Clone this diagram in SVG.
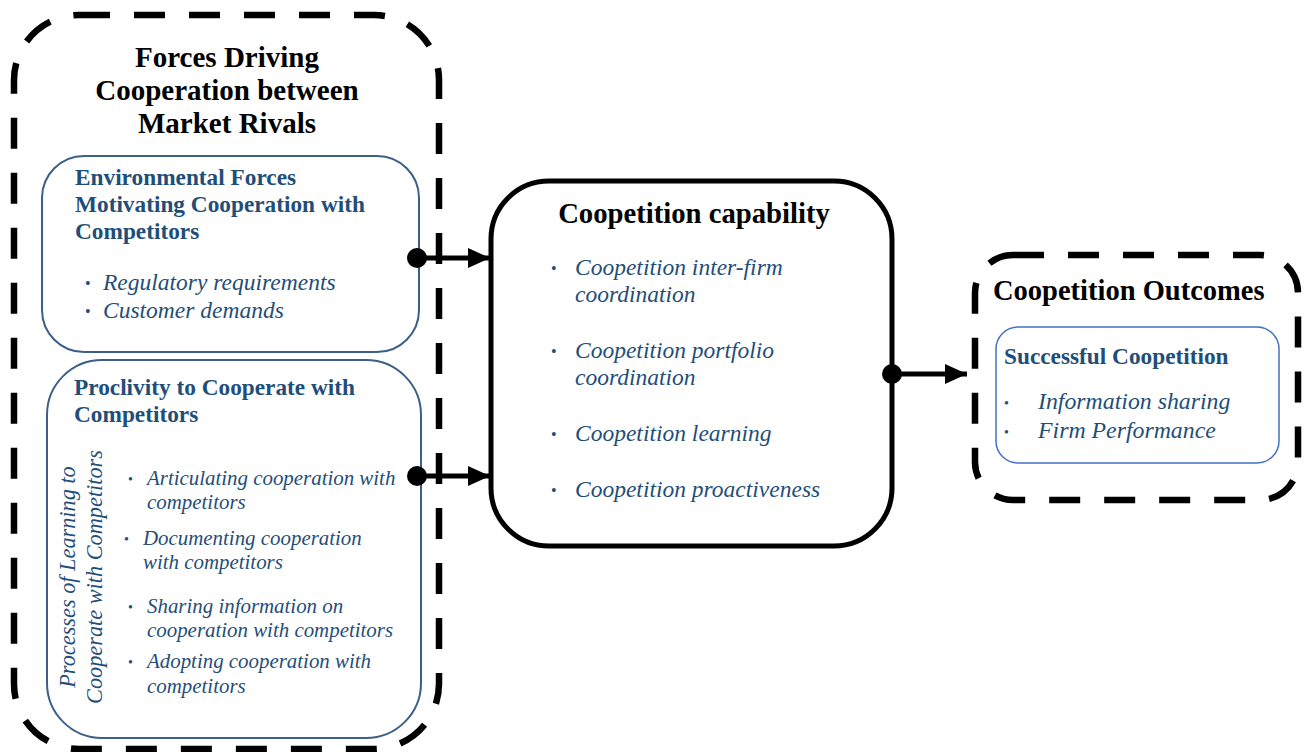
<svg xmlns="http://www.w3.org/2000/svg" width="1305" height="752" viewBox="0 0 1305 752">
<style>
.dash{fill:none;stroke:#000;stroke-width:6.5;stroke-dasharray:31 24}
.blue{fill:#fff;stroke:#3c5f88;stroke-width:2}
.hd{font-family:"Liberation Serif",serif;font-weight:bold;fill:#000}
.bh{font-family:"Liberation Serif",serif;font-weight:bold;fill:#1f4e79}
.it{font-family:"Liberation Serif",serif;font-style:italic;fill:#1f4e79}
.bul{font-family:"Liberation Serif",serif;fill:#1f4e79}
.conn{stroke:#000;stroke-width:5;fill:none}
</style>
<defs>
<marker id="ah" markerWidth="22" markerHeight="20" refX="22" refY="10" orient="auto" markerUnits="userSpaceOnUse">
<path d="M0,0 L22,10 L0,20 Z" fill="#000"/>
</marker>
</defs>
<rect width="1305" height="752" fill="#fff"/>

<g id="forces">
<rect class="dash" x="14" y="15" width="425" height="734" rx="65"/>
<text class="hd" font-size="29" text-anchor="middle" x="227" y="67">Forces Driving</text>
<text class="hd" font-size="29" text-anchor="middle" x="227" y="100">Cooperation between</text>
<text class="hd" font-size="29" text-anchor="middle" x="227" y="133">Market Rivals</text>
</g>

<g id="environmental">
<rect class="blue" x="42" y="156" width="377" height="196" rx="42"/>
<text class="bh" font-size="23.3" x="75" y="185">Environmental Forces</text>
<text class="bh" font-size="23.3" x="75" y="212">Motivating Cooperation with</text>
<text class="bh" font-size="23.3" x="75" y="239">Competitors</text>
<text class="bul" font-size="16" x="85" y="289">•</text>
<text class="it" font-size="23.5" x="103" y="290">Regulatory requirements</text>
<text class="bul" font-size="16" x="85" y="317">•</text>
<text class="it" font-size="23.5" x="103" y="318">Customer demands</text>
</g>

<g id="proclivity">
<rect class="blue" x="47" y="360" width="374" height="378" rx="55"/>
<text class="bh" font-size="23.3" x="74" y="395">Proclivity to Cooperate with</text>
<text class="bh" font-size="23.3" x="74" y="422">Competitors</text>
<text class="it" font-size="22.3" text-anchor="middle" transform="translate(75,577) rotate(-90)">Processes of Learning to</text>
<text class="it" font-size="22.3" text-anchor="middle" transform="translate(102,577) rotate(-90)">Cooperate with Competitors</text>
<text class="bul" font-size="14" x="128" y="484">•</text>
<text class="it" font-size="20.9" x="147" y="485">Articulating cooperation with</text>
<text class="it" font-size="20.9" x="147" y="509">competitors</text>
<text class="bul" font-size="14" x="124" y="544">•</text>
<text class="it" font-size="20.9" x="143" y="545">Documenting cooperation</text>
<text class="it" font-size="20.9" x="143" y="569">with competitors</text>
<text class="bul" font-size="14" x="128" y="612">•</text>
<text class="it" font-size="20.9" x="147" y="613">Sharing information on</text>
<text class="it" font-size="20.9" x="147" y="637">cooperation with competitors</text>
<text class="bul" font-size="14" x="128" y="667">•</text>
<text class="it" font-size="20.9" x="147" y="668">Adopting cooperation with</text>
<text class="it" font-size="20.9" x="147" y="693">competitors</text>
</g>

<g id="capability">
<rect x="491" y="181" width="401" height="365" rx="58" fill="#fff" stroke="#000" stroke-width="5"/>
<text class="hd" font-size="28.7" text-anchor="middle" x="694" y="223">Coopetition capability</text>
<text class="bul" font-size="16" x="551" y="274">•</text>
<text class="it" font-size="23.5" x="575" y="275">Coopetition inter-firm</text>
<text class="it" font-size="23.5" x="575" y="302">coordination</text>
<text class="bul" font-size="16" x="551" y="357">•</text>
<text class="it" font-size="23.5" x="575" y="358">Coopetition portfolio</text>
<text class="it" font-size="23.5" x="575" y="385">coordination</text>
<text class="bul" font-size="16" x="551" y="440">•</text>
<text class="it" font-size="23.5" x="575" y="441">Coopetition learning</text>
<text class="bul" font-size="16" x="551" y="496">•</text>
<text class="it" font-size="23.5" x="575" y="497">Coopetition proactiveness</text>
</g>

<g id="outcomes">
<rect class="dash" x="975" y="255" width="323" height="245" rx="38"/>
<text class="hd" font-size="28.5" x="993" y="300">Coopetition Outcomes</text>
<rect x="996" y="327" width="283" height="136" rx="22" fill="#fff" stroke="#4472c4" stroke-width="1.5"/>
<text class="bh" font-size="23.3" x="1004" y="364">Successful Coopetition</text>
<text class="bul" font-size="14" x="1004" y="408">•</text>
<text class="it" font-size="23.8" x="1038" y="409">Information sharing</text>
<text class="bul" font-size="14" x="1004" y="437">•</text>
<text class="it" font-size="23.8" x="1038" y="438">Firm Performance</text>
</g>

<g id="connectors">
<line class="conn" x1="417" y1="258" x2="490" y2="258" marker-end="url(#ah)"/>
<circle cx="417" cy="258" r="10"/>
<line class="conn" x1="417" y1="476" x2="490" y2="476" marker-end="url(#ah)"/>
<circle cx="417" cy="476" r="10"/>
<line class="conn" x1="892" y1="374" x2="967" y2="374" marker-end="url(#ah)"/>
<circle cx="892" cy="374" r="10"/>
</g>
</svg>
